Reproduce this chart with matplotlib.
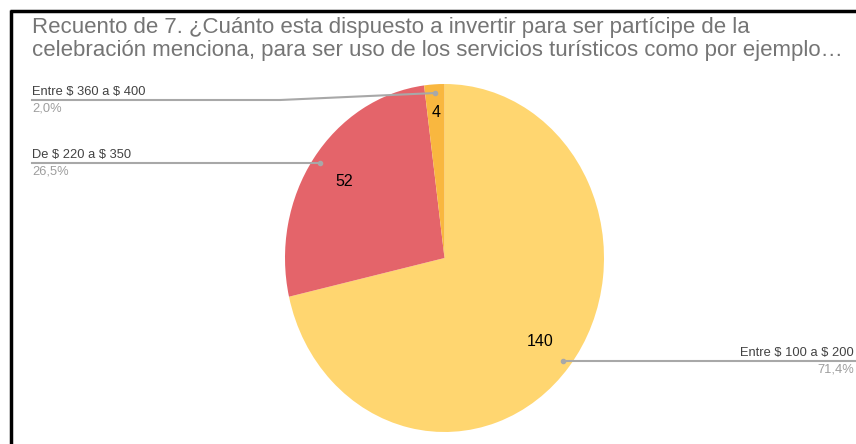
import numpy as np
import matplotlib.pyplot as plt

# data
categories = ["Entre $ 100 a $ 200", "De $ 220 a $ 350", "Entre $ 360 a $ 400"]
counts = [140, 52, 4]
colors = ["#FFD670", "#E4646A", "#F9B73F"]

title_lines = ["Recuento de 7. ¿Cuánto esta dispuesto a invertir para ser partícipe de la",
               "celebración menciona, para ser uso de los servicios turísticos como por ejemplo…"]

plt.rcParams["font.family"] = ["Liberation Sans", "DejaVu Sans"]
plt.rcParams["text.parse_math"] = False

W, H = 856, 444
fig = plt.figure(figsize=(W / 100, H / 100), dpi=100)

# overlay axes in pixel coordinates (y down) for border, title and leader lines
over = fig.add_axes([0, 0, 1, 1], zorder=2)
over.set_xlim(0, W)
over.set_ylim(H, 0)
over.axis("off")
over.patch.set_alpha(0)

# pie axes (stretched slightly, like the reference)
pie_left, pie_right, pie_top, pie_bottom = 285, 604, 84, 432
pax = fig.add_axes([pie_left / W, (H - pie_bottom) / H,
                    (pie_right - pie_left) / W, (pie_bottom - pie_top) / H], zorder=1)
wedges, _, autotexts = pax.pie(
    counts, colors=colors, startangle=90, counterclock=False,
    autopct=lambda p: f"{round(p * sum(counts) / 100):d}", pctdistance=0.77,
    textprops=dict(fontsize=11.5, color="black"),
    wedgeprops=dict(linewidth=0),
)
pax.set_aspect("auto")
pax.set_xlim(-1, 1)
pax.set_ylim(-1, 1)
pax.axis("off")
# small slice label sits further out
x, y = autotexts[2].get_position()
autotexts[2].set_position((x * 0.84 / 0.77, y * 0.84 / 0.77))

# border lines
over.plot([10, W], [11, 11], color="black", lw=2.5, solid_capstyle="butt")
over.plot([11, 11], [10, H], color="black", lw=2.5, solid_capstyle="butt")

for i, line in enumerate(title_lines):
    over.text(32, 33 + 23 * i, line, fontsize=16, color="#757575",
              va="baseline", ha="left")


def dot_position(w):
    mid = np.deg2rad((w.theta1 + w.theta2) / 2)
    disp = pax.transData.transform((0.95 * np.cos(mid), 0.95 * np.sin(mid)))
    return over.transData.inverted().transform(disp)


total = sum(counts)
pct = [f"{c / total * 100:.1f}".replace(".", ",") + "%" for c in counts]
line_col = "#A8A8A8"
lab_fs = 9.3

# label 0: right side
dx, dy = dot_position(wedges[0])
over.plot([dx, W], [dy, dy], color=line_col, lw=1.5)
over.plot(dx, dy, "o", color=line_col, ms=3)
over.text(854, dy - 2, categories[0], fontsize=lab_fs, color="#424242", ha="right", va="bottom")
over.text(854, dy + 2, pct[0], fontsize=lab_fs, color="#9E9E9E", ha="right", va="top")

# label 1: left side
dx, dy = dot_position(wedges[1])
over.plot([32, dx], [dy, dy], color=line_col, lw=1.5)
over.plot(dx, dy, "o", color=line_col, ms=3)
over.text(32, dy - 2, categories[1], fontsize=lab_fs, color="#424242", ha="left", va="bottom")
over.text(32, dy + 2, pct[1], fontsize=lab_fs, color="#9E9E9E", ha="left", va="top")

# label 2: left side, bent leader
dx, dy = dot_position(wedges[2])
ly = 100
over.plot([32, 280, dx], [ly, ly, dy], color=line_col, lw=1.5)
over.plot(dx, dy, "o", color=line_col, ms=3)
over.text(32, ly - 2, categories[2], fontsize=lab_fs, color="#424242", ha="left", va="bottom")
over.text(32, ly + 2, pct[2], fontsize=lab_fs, color="#9E9E9E", ha="left", va="top")

fig.savefig("out.png", dpi=100)
